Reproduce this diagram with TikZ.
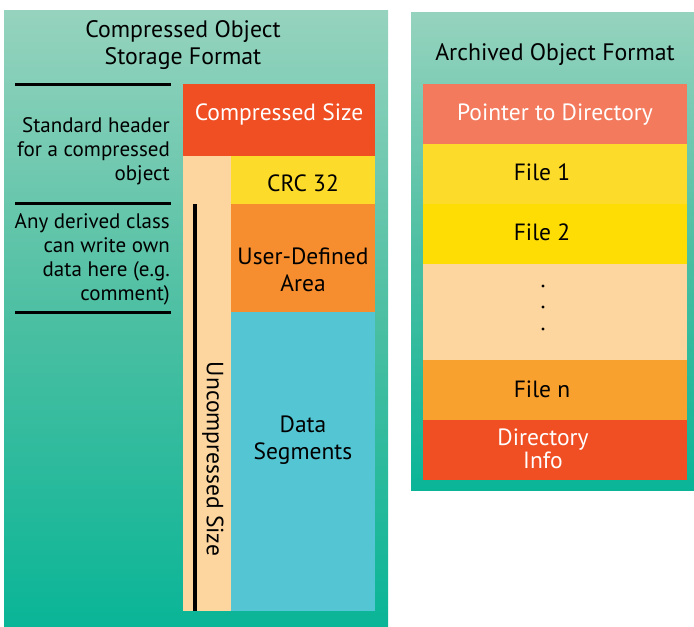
\documentclass[tikz,border=0pt]{standalone}
\usepackage{fontspec}
\setmainfont{PT Sans}
\definecolor{panelTop}{HTML}{96D3BE}
\definecolor{panelMid}{HTML}{4CBFA2}
\definecolor{panelBot}{HTML}{0AB597}
\definecolor{redOrange}{HTML}{F04E23}
\definecolor{salmon}{HTML}{F37A5D}
\definecolor{peach}{HTML}{FCD59F}
\definecolor{yellowA}{HTML}{FDDB2A}
\definecolor{yellowB}{HTML}{FEDD05}
\definecolor{orangeA}{HTML}{F68D2E}
\definecolor{orangeB}{HTML}{F9A12F}
\definecolor{cyanSeg}{HTML}{54C5D3}
\begin{document}
\begin{tikzpicture}[x=1pt, y=-1pt, seg/.style={rectangle, inner sep=0pt, align=center, font=\fontsize{23.5}{27}\selectfont}, note/.style={anchor=east, align=right, inner sep=0pt, font=\fontsize{21}{24}\selectfont}, head/.style={align=center, inner sep=0pt, font=\fontsize{23.8}{27}\selectfont}]
	\useasboundingbox (0,0) rectangle (694,627);
	% panels
	\shade[top color=panelTop, bottom color=panelBot, middle color=panelMid] (4,10) rectangle (388,627);
	\shade[top color=panelTop, bottom color=panelBot, middle color=panelMid] (411,12) rectangle (694,490);
	\node[head] (T1) at (183,45) {Compressed Object\\Storage Format};
	\node[head] (T2) at (555,55) {Archived Object Format};
	% compressed object
	\node[seg, fill=redOrange, minimum width=192, minimum height=72] (C1) at (279,120) {};
	\node[seg, fill=peach, minimum width=48, minimum height=455] (C2) at (207,383.5) {};
	\node[seg, fill=yellowA, minimum width=144, minimum height=48] (C3) at (303,180) {};
	\node[seg, fill=orangeA, minimum width=144, minimum height=108] (C4) at (303,258) {};
	\node[seg, fill=cyanSeg, minimum width=144, minimum height=299] (C5) at (303,461.5) {};
	\node[seg, text=white] (L1a) at (279,114) {Compressed Size};
	\node[seg] (L3a) at (303,183) {CRC 32};
	\node[seg] (L4a) at (303,270) {User-Defined\\Area};
	\node[seg] (L5a) at (303,440) {Data\\Segments};
	\draw[line width=4] (195,204) -- (195,611);
	\node[seg, rotate=-90] (U) at (213,459) {Uncompressed Size};
	\draw[line width=3] (15,84) -- (171,84);
	\draw[line width=3] (15,203) -- (171,203);
	\draw[line width=3] (15,312) -- (171,312);
	\node[note] (N1) at (170,151) {Standard header\\for a compressed\\object};
	\node[note] (N2) at (170,259) {Any derived class\\can write own\\data here (e.g.\\comment)};
	% archived object
	\node[seg, fill=salmon, minimum width=264, minimum height=60] (A1) at (555,114) {};
	\node[seg, fill=yellowA, minimum width=264, minimum height=60] (A2) at (555,174) {};
	\node[seg, fill=yellowB, minimum width=264, minimum height=60] (A3) at (555,234) {};
	\node[seg, fill=peach, minimum width=264, minimum height=96] (A4) at (555,312) {};
	\node[seg, fill=orangeB, minimum width=264, minimum height=60] (A5) at (555,390) {};
	\node[seg, fill=redOrange, minimum width=264, minimum height=60] (A6) at (555,450) {};
	\node[seg, text=white] (L1) at ([yshift=-1]A1.center) {Pointer to Directory};
	\node[seg] (L2) at ([xshift=-13, yshift=2]A2.center) {File 1};
	\node[seg] (L3) at ([xshift=-13, yshift=2]A3.center) {File 2};
	\node[seg] (L5) at ([xshift=-13, yshift=1]A5.center) {File n};
	\node[seg, text=white, font=\fontsize{23.5}{23}\selectfont] (L6) at ([xshift=-12, yshift=1]A6.center) {Directory\\Info};
	\foreach \y in {286,307,329}
	\fill (543,\y) circle (1.6);
\end{tikzpicture}
\end{document}
